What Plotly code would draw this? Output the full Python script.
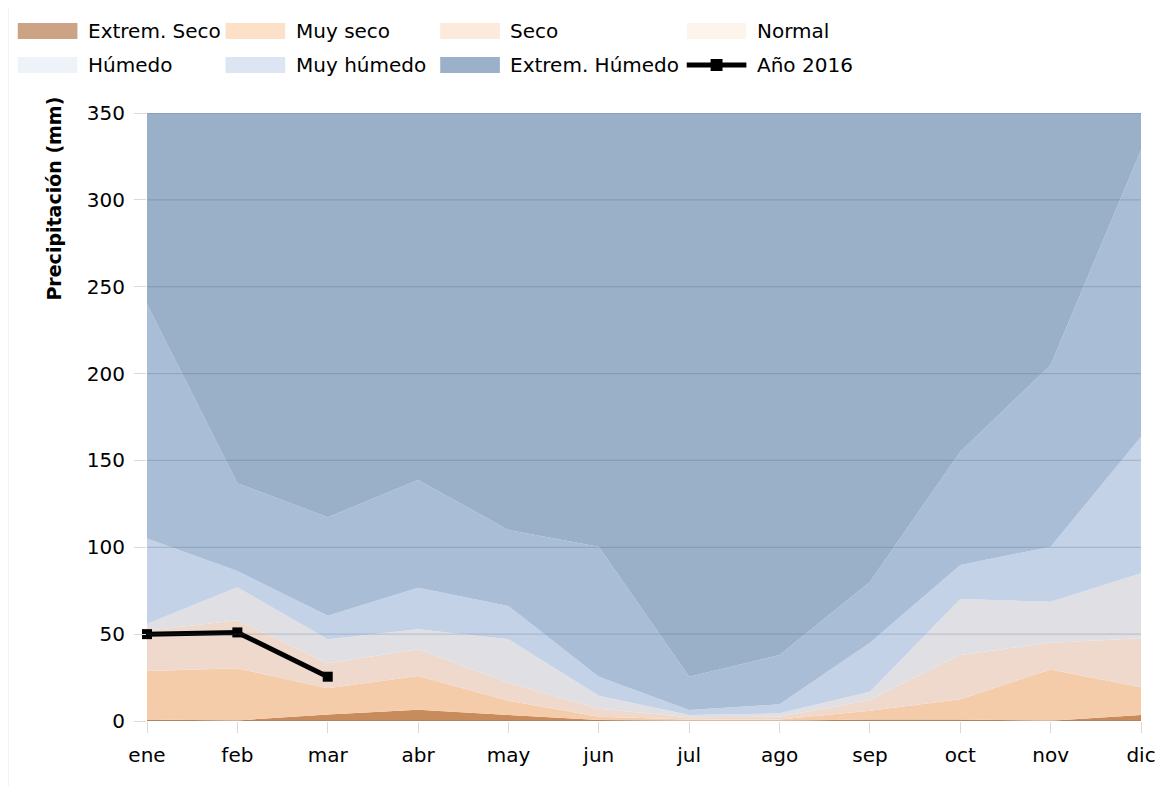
import plotly.graph_objects as go

months = ["ene", "feb", "mar", "abr", "may", "jun", "jul", "ago", "sep", "oct", "nov", "dic"]

# Upper limit of each precipitation class (mm)
extrem_seco  = [0.8, 0.3, 3.8, 6.5, 3.5, 0.6, 0.2, 0.2, 0.8, 0.8, 0.2, 3.5]
muy_seco     = [28.8, 30.3, 18.8, 25.9, 11.7, 2.5, 0.8, 0.8, 5.9, 12.5, 29.7, 19.4]
seco         = [52.0, 58.0, 33.2, 41.3, 22.0, 7.0, 2.1, 2.5, 12.1, 38.0, 45.1, 47.6]
normal       = [56.0, 77.0, 47.0, 52.8, 47.0, 14.6, 3.5, 4.4, 16.9, 70.2, 68.7, 85.0]
humedo       = [105.0, 86.3, 60.6, 76.7, 66.2, 25.5, 6.3, 9.6, 45.1, 89.8, 100.3, 163.7]
muy_humedo   = [240.0, 136.8, 117.3, 138.7, 110.0, 100.3, 25.5, 38.0, 80.2, 155.0, 205.0, 328.7]
extrem_humedo = [350, 350, 350, 350, 350, 350, 350, 350, 350, 350, 350, 350]

anio_2016 = [50.0, 51.0, 25.5, None, None, None, None, None, None, None, None, None]

class_names = ["Extrem. Seco", "Muy seco", "Seco", "Normal", "Húmedo", "Muy húmedo", "Extrem. Húmedo"]
class_values = [extrem_seco, muy_seco, seco, normal, humedo, muy_humedo, extrem_humedo]
band_colors = ["#C78B5C", "#F5CCAA", "#EFD9CC", "#E0DFE3", "#C3D2E6", "#A9BDD7", "#9AAFC8"]
legend_colors = ["#CDA386", "#FCE0C8", "#FCEADC", "#FDF4EC", "#EEF2F9", "#DCE5F1", "#9BB0C9"]
line_name = "Año 2016"

y_ticks = [0, 50, 100, 150, 200, 250, 300, 350]

# page body has an 8px margin: figure pixel = screen pixel - OFF
OFF = 8
W, H = 1160, 778
ML = 147 - OFF
MT = 113 - OFF
MR = W - (1147 - OFF)
MB = H - (721 - OFF)
PW, PH = W - ML - MR, H - MT - MB

def px_x(px):
    return (px - OFF - ML) / PW

def px_y(py):
    return (H - MB - (py - OFF)) / PH

fig = go.Figure()

for i, (name, vals, col) in enumerate(zip(class_names, class_values, band_colors)):
    fig.add_trace(go.Scatter(
        x=months, y=vals, name=name, mode="lines",
        line=dict(width=0, color=col),
        fill="tozeroy" if i == 0 else "tonexty",
        fillcolor=col, showlegend=False, hoverinfo="x+y+name",
    ))

fig.add_trace(go.Scatter(
    x=months, y=anio_2016, name=line_name, mode="lines+markers",
    line=dict(color="black", width=5),
    marker=dict(symbol="square", size=10, color="black"),
    showlegend=False, cliponaxis=False,
))

shapes = []
# gridlines drawn above the areas
for t in y_ticks:
    shapes.append(dict(type="line", xref="paper", yref="y", x0=0, x1=1, y0=t, y1=t,
                       line=dict(color="rgba(70,90,120,0.22)", width=1.3), layer="above"))

# outer chart border (left and top)
shapes.append(dict(type="line", xref="paper", yref="paper", x0=px_x(7), x1=px_x(1200),
                   y0=px_y(6), y1=px_y(6), line=dict(color="#D9D9D9", width=1)))
shapes.append(dict(type="line", xref="paper", yref="paper", x0=px_x(7), x1=px_x(7),
                   y0=px_y(6), y1=px_y(820), line=dict(color="#D9D9D9", width=1)))

annotations = []
# manual legend (4 columns x 2 rows)
col_swatch_x = [17, 226, 442, 690]
col_text_x = [86, 295, 510, 759]
row_y = [31, 65]
legend_entries = list(zip(class_names, legend_colors)) + [(line_name, None)]
for k, (name, col) in enumerate(legend_entries):
    r, c = divmod(k, 4)
    sx, ty = col_swatch_x[c], row_y[r]
    if col is not None:
        shapes.append(dict(type="rect", xref="paper", yref="paper",
                           x0=px_x(sx), x1=px_x(sx + 60), y0=px_y(ty - 8), y1=px_y(ty + 8),
                           fillcolor=col, line=dict(width=0)))
    else:
        shapes.append(dict(type="line", xref="paper", yref="paper",
                           x0=px_x(sx), x1=px_x(sx + 60), y0=px_y(ty), y1=px_y(ty),
                           line=dict(color="black", width=5)))
        shapes.append(dict(type="rect", xref="paper", yref="paper",
                           x0=px_x(sx + 24), x1=px_x(sx + 36), y0=px_y(ty - 6), y1=px_y(ty + 6),
                           fillcolor="black", line=dict(width=0)))
    annotations.append(dict(text=name, xref="paper", yref="paper", x=px_x(col_text_x[c]),
                            y=px_y(ty), xanchor="left", yanchor="middle", showarrow=False,
                            font=dict(family="DejaVu Sans", size=20, color="black")))

annotations.append(dict(text="<b>Precipitación (mm)</b>", xref="paper", yref="paper",
                        x=px_x(53), y=px_y(199), textangle=-90, showarrow=False,
                        xanchor="center", yanchor="middle",
                        font=dict(family="DejaVu Sans", size=19, color="black")))

fig.update_layout(
    width=W, height=H,
    margin=dict(l=ML, r=MR, t=MT, b=MB),
    paper_bgcolor="white", plot_bgcolor="white",
    showlegend=False,
    shapes=shapes, annotations=annotations,
    font=dict(family="DejaVu Sans", size=20, color="black"),
)
fig.update_xaxes(
    type="category", range=[0, 11], showgrid=False, zeroline=False,
    ticks="outside", ticklen=11, tickcolor="#D9D9D9", tickwidth=1,
    tickfont=dict(family="DejaVu Sans", size=20, color="black"),
    ticklabelstandoff=5, showline=False,
)
fig.update_yaxes(
    range=[0, 350], tickvals=y_ticks, showgrid=False, zeroline=False,
    ticks="outside", ticklen=12, tickcolor="#D9D9D9", tickwidth=1,
    tickfont=dict(family="DejaVu Sans", size=20, color="black"),
    ticklabelstandoff=5, showline=False,
)

fig.write_html("out.html")
